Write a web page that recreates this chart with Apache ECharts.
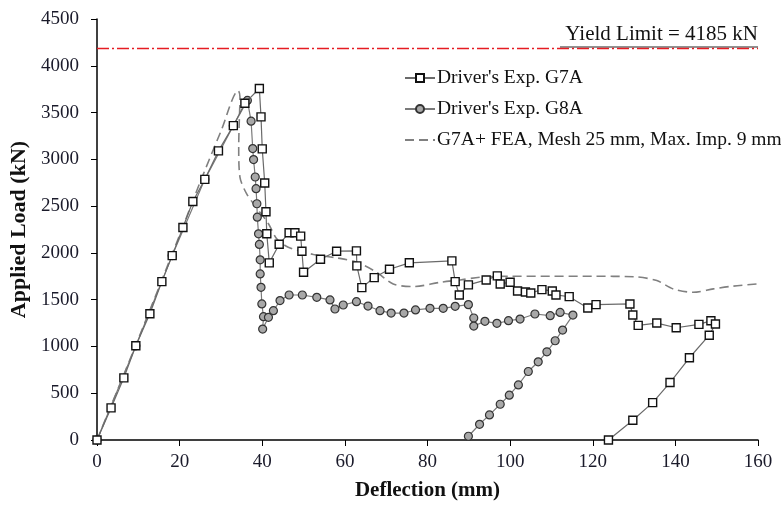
<!DOCTYPE html>
<html>
<head>
<meta charset="utf-8">
<script src="https://cdn.jsdelivr.net/npm/echarts@6/dist/echarts.min.js"></script>
<style>
html, body { margin: 0; padding: 0; background: #fff; }
#main { width: 781px; height: 507px; }
</style>
</head>
<body>
<div id="main"></div>
<script>
// G7A experiment, deflection (mm) vs load (kN), in test order
var g7a = [
	[0, 0], [3.4, 343], [6.5, 664], [9.4, 1007], [12.8, 1350], [15.7, 1693], [18.2, 1971],
	[20.8, 2272], [23.2, 2550], [26.1, 2786], [29.4, 3090], [33, 3360], [35.8, 3600],
	[39.3, 3757], [39.7, 3454], [40, 3112], [40.6, 2747], [40.9, 2440], [41.1, 2204],
	[41.7, 1893], [44.1, 2093], [46.5, 2215], [47.9, 2215], [49.3, 2179], [49.6, 2018],
	[50, 1793], [54.1, 1932], [58, 2018], [62.8, 2022], [62.9, 1861], [64.1, 1629],
	[67.1, 1736], [70.8, 1825], [75.6, 1894], [85.9, 1915], [86.7, 1693], [87.7, 1550],
	[89.9, 1658], [94.2, 1711], [96.9, 1754], [97.6, 1668], [100, 1686], [101.8, 1593],
	[103.7, 1582], [105, 1571], [107.7, 1607], [110.2, 1593], [111.1, 1550], [114.3, 1532],
	[118.8, 1411], [120.8, 1447], [129, 1454], [129.7, 1336], [131, 1225], [135.5, 1250],
	[140.2, 1200], [145.7, 1236], [148.6, 1275], [149.7, 1240], [148.2, 1120], [143.4, 879],
	[138.7, 614], [134.5, 400], [129.7, 211], [123.8, 0]
];
// G8A experiment
var g8a = [
	[0, 0], [9.4, 1007], [18.2, 1971], [26.1, 2786], [33, 3360], [36.4, 3630],
	[37.3, 3408], [37.7, 3115], [37.9, 2997], [38.3, 2811], [38.5, 2686], [38.7, 2525],
	[38.8, 2382], [39.1, 2204], [39.3, 2090], [39.5, 1926], [39.5, 1775], [39.7, 1632],
	[39.9, 1454], [40.3, 1318], [40.1, 1186], [41.5, 1311], [42.7, 1382], [44.3, 1490],
	[46.5, 1550], [49.7, 1550], [53.2, 1525], [56.4, 1497], [57.6, 1400], [59.6, 1443],
	[62.8, 1479], [65.6, 1432], [68.5, 1382], [71.2, 1357], [74.3, 1357], [77.1, 1390],
	[80.6, 1407], [83.8, 1407], [86.7, 1429], [89.9, 1447], [91.2, 1304], [91.2, 1218],
	[93.9, 1268], [96.8, 1247], [99.6, 1275], [102.4, 1293], [106, 1347], [109.7, 1329],
	[112.1, 1364], [115.2, 1335], [112.7, 1175], [110.9, 1061], [108.9, 943], [106.8, 836],
	[104.4, 732], [102, 589], [99.8, 479], [97.6, 382], [95, 268], [92.6, 168], [89.9, 40]
];
// FEA curve
var fea = [
	[0, 0], [10, 1080], [20, 2190], [25, 2760], [30, 3300], [34.2, 3733], [34.6, 3668],
	[34.4, 3347], [34.3, 3133], [34.6, 2811], [36.2, 2633], [38.5, 2490], [41.5, 2311],
	[43.5, 2150], [46.3, 2061], [52.4, 1983], [58, 1947], [62.9, 1900], [67.7, 1793],
	[71.7, 1668], [76.6, 1640], [83.1, 1686], [87.9, 1711], [92.7, 1740], [100, 1750],
	[110, 1750], [120, 1750], [130, 1745], [135.5, 1704], [139.5, 1615], [144.3, 1579],
	[149.2, 1615], [154, 1645], [160, 1668]
];
var yieldLimit = [[0, 4185], [160, 4185]];
var xTicks = { min: 0, max: 160, interval: 20 };
var yTicks = { min: 0, max: 4500, interval: 500 };

var serif = '"Liberation Serif", "DejaVu Serif", serif';
var myChart = echarts.init(document.getElementById('main'));

var option = {
	animation: false,
	backgroundColor: '#fff',
	grid: { left: 97, right: 23, top: 19, bottom: 67 },
	legend: {
		orient: 'vertical',
		left: 399,
		top: 63,
		itemWidth: 30,
		itemHeight: 10,
		itemGap: 11,
		textStyle: { fontFamily: serif, fontSize: 19.5, lineHeight: 20, color: '#111', padding: [0, 0, 0, -3] },
		data: [
			"Driver's Exp. G7A",
			"Driver's Exp. G8A",
			{ name: 'G7A+ FEA, Mesh 25 mm, Max. Imp. 9 mm', itemStyle: { opacity: 0 } }
		]
	},
	xAxis: {
		type: 'value',
		min: xTicks.min, max: xTicks.max, interval: xTicks.interval,
		name: 'Deflection (mm)',
		nameLocation: 'middle',
		nameGap: 40,
		nameTextStyle: { fontFamily: serif, fontSize: 21, fontWeight: 'bold', color: '#111' },
		axisLine: { lineStyle: { color: '#000', width: 1.5 } },
		axisTick: { show: true, inside: false, length: 6, lineStyle: { color: '#000' } },
		axisLabel: { fontFamily: serif, fontSize: 19, color: '#1a1a2a', margin: 13 },
		splitLine: { show: false }
	},
	yAxis: {
		type: 'value',
		min: yTicks.min, max: yTicks.max, interval: yTicks.interval,
		name: 'Applied Load (kN)',
		nameLocation: 'middle',
		nameGap: 66,
		nameTextStyle: { fontFamily: serif, fontSize: 22, fontWeight: 'bold', color: '#111' },
		axisLine: { show: true, lineStyle: { color: '#000', width: 1.5 } },
		axisTick: { show: true, inside: false, length: 6, lineStyle: { color: '#000' } },
		axisLabel: {
			fontFamily: serif, fontSize: 19, color: '#1a1a2a', margin: 18,
			formatter: function(v) { return String(v); }
		},
		splitLine: { show: false }
	},
	graphic: [
		{
			type: 'text',
			right: 23,
			top: 24,
			style: { text: 'Yield Limit = 4185 kN', font: '21px ' + serif, fill: '#111' }
		},
		{
			type: 'line',
			shape: { x1: 560, y1: 47, x2: 758, y2: 47 },
			style: { stroke: '#222', lineWidth: 1 }
		}
	],
	series: [
		{
			name: 'Yield Limit',
			type: 'line',
			data: yieldLimit,
			symbol: 'none',
			silent: true,
			lineStyle: { color: '#e51c23', width: 1.5, type: [12, 3, 2, 3] },
			z: 1
		},
		{
			name: 'G7A+ FEA, Mesh 25 mm, Max. Imp. 9 mm',
			type: 'line',
			data: fea,
			symbol: 'none',
			smooth: 0.3,
			color: '#555',
			lineStyle: { color: '#808080', width: 1.6, type: [9, 5] },
			z: 2
		},
		{
			name: "Driver's Exp. G8A",
			type: 'line',
			data: g8a,
			symbol: 'circle',
			symbolSize: 8,
			color: '#333',
			lineStyle: { color: '#7a7a7a', width: 1.2 },
			itemStyle: { color: '#a8a8a8', borderColor: '#333', borderWidth: 1.2 },
			z: 3
		},
		{
			name: "Driver's Exp. G7A",
			type: 'line',
			data: g7a,
			symbol: 'rect',
			symbolSize: 8,
			color: '#222',
			lineStyle: { color: '#6a6a6a', width: 1.2 },
			itemStyle: { color: '#fff', borderColor: '#111', borderWidth: 1.4 },
			z: 4
		}
	]
};
myChart.setOption(option);
</script>
</body>
</html>
